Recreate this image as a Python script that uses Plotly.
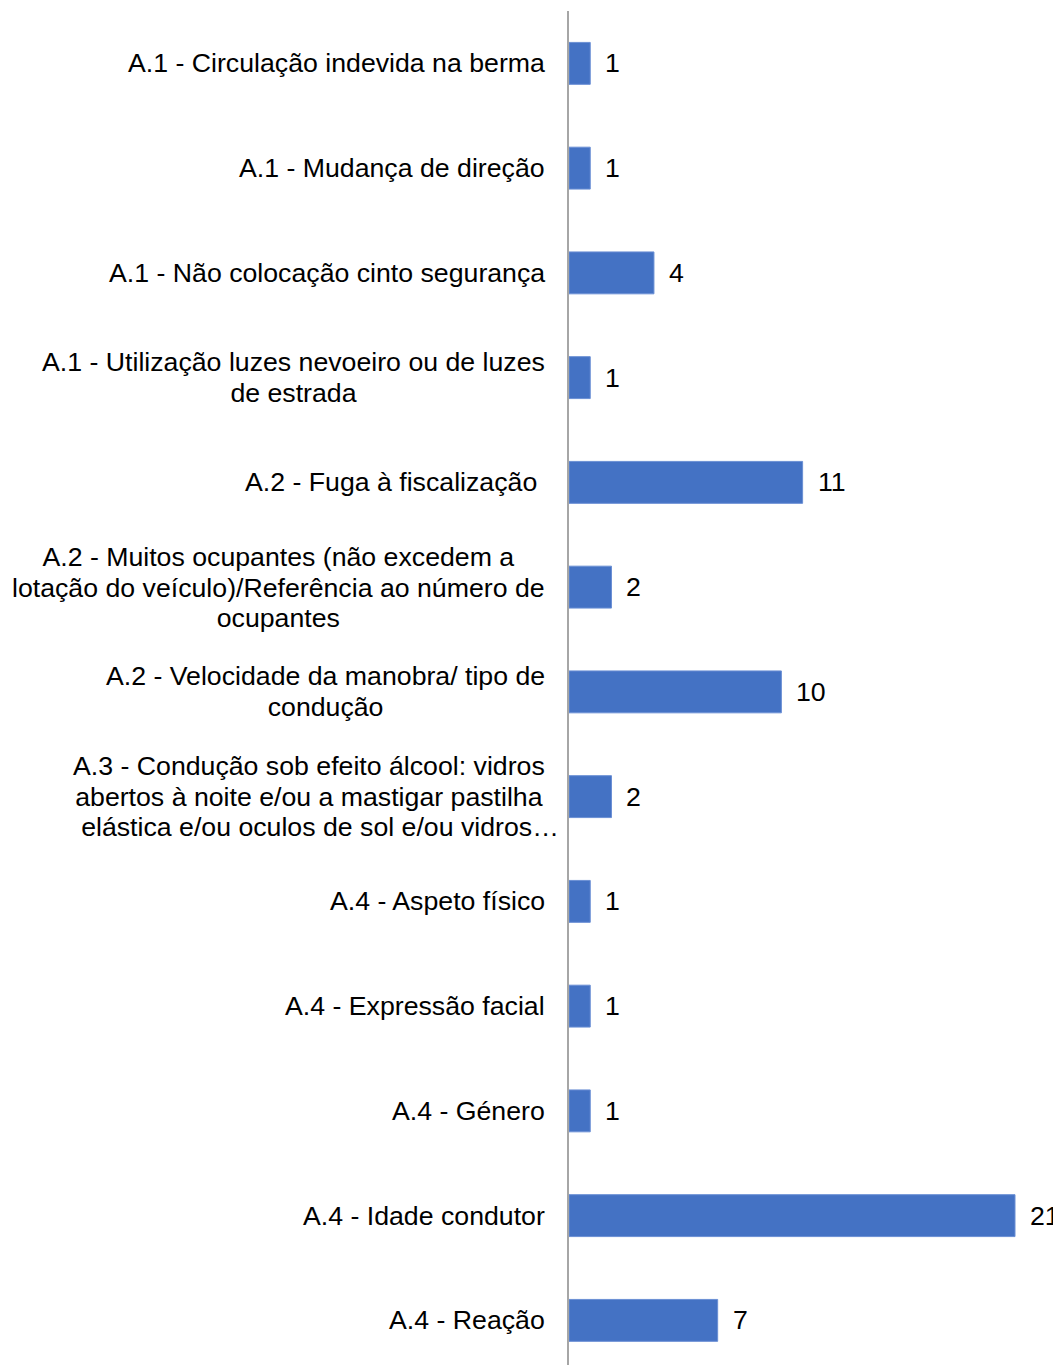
import plotly.graph_objects as go

categories = [
    "A.1 - Circulação indevida na berma",
    "A.1 - Mudança de direção",
    "A.1 - Não colocação cinto segurança",
    "A.1 - Utilização luzes nevoeiro ou de luzes<br>de estrada",
    "A.2 - Fuga à fiscalização ",
    "A.2 - Muitos ocupantes (não excedem a<br>lotação do veículo)/Referência ao número de<br>ocupantes",
    "A.2 - Velocidade da manobra/ tipo de<br>condução",
    "A.3 - Condução sob efeito álcool: vidros<br>abertos à noite e/ou a mastigar pastilha<br>elástica e/ou oculos de sol e/ou vidros…",
    "A.4 - Aspeto físico",
    "A.4 - Expressão facial",
    "A.4 - Género",
    "A.4 - Idade condutor",
    "A.4 - Reação",
]
values = [1, 1, 4, 1, 11, 2, 10, 2, 1, 1, 1, 21, 7]

OFF = 8  # page body offset
W, H = 1061 - OFF, 1365 - OFF
FONT = "Liberation Sans, Arial, sans-serif"
FS = 26.7
LINE = 30.5
AX_X = 569 - OFF
TOP = 11 - OFF

fig = go.Figure()
fig.add_trace(go.Bar(
    x=values, y=categories, orientation="h",
    marker=dict(color="#4472C4", line=dict(color="#6a8fd4", width=1)),
    width=0.4, hoverinfo="skip",
))

for cat, v in zip(categories, values):
    lines = cat.split("<br>")
    shift = -22
    if lines[-1].endswith("…"):
        # truncated label: the ellipsis overflows to the right
        lines = [ln + "&nbsp;&nbsp;" for ln in lines[:-1]] + ["&nbsp;" + lines[-1]]
        shift = -7
    txt = "<br>".join(f'<span style="font-size:{FS}px">{ln}</span>' for ln in lines)
    fig.add_annotation(
        x=0, xref="paper", y=cat, yref="y", xanchor="right", yanchor="middle",
        xshift=shift, text=txt, align="center", showarrow=False,
        font=dict(family=FONT, size=LINE / 1.3, color="#000000"),
    )
    fig.add_annotation(
        x=v, xref="x", y=cat, yref="y", xanchor="left", yanchor="middle",
        xshift=13, text=str(v), showarrow=False,
        font=dict(family=FONT, size=FS, color="#000000"),
    )

px_per_cat = 104.75
plot_h = H - TOP
span = plot_h / px_per_cat

fig.update_layout(
    width=W, height=H,
    margin=dict(l=AX_X, r=0, t=TOP, b=0),
    plot_bgcolor="white", paper_bgcolor="white",
    showlegend=False,
    xaxis=dict(range=[0, (W - AX_X) / (446 / 21)], visible=False, fixedrange=True),
    yaxis=dict(
        type="category", categoryorder="array", categoryarray=categories,
        range=[-0.5 + span, -0.5], showticklabels=False, ticks="",
        showgrid=False, zeroline=False,
        showline=True, linecolor="#a6a6a6", linewidth=1.5,
    ),
)

fig.write_html("out.html")
